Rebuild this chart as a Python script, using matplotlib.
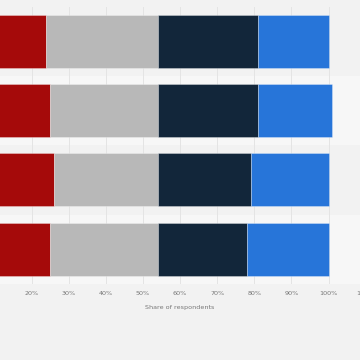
import numpy as np
import matplotlib
matplotlib.use("Agg")
import matplotlib.pyplot as plt

# --- Data (category labels are cropped out) ---
categories = ["Group 1", "Group 2", "Group 3", "Group 4"]
series_names = ["Series 1", "Series 2", "Series 3", "Series 4"]
series_1 = [24, 25, 26, 25]
series_2 = [30, 29, 28, 29]
series_3 = [27, 27, 25, 24]
series_4 = [19, 20, 21, 22]
ticks = np.arange(0, 130, 10)

colors = ["#a50a0a", "#b8b8b8", "#12263a", "#2775d9"]

# --- Figure ---
fig = plt.figure(figsize=(3.6, 3.6), dpi=100)
fig.patch.set_facecolor("#f2f2f2")

# axes runs past the figure edges on purpose (reference is a crop)
px0 = -42.75          # x pixel of 0 %
px_per_pct = 3.7125
xmax = 120
left = px0 / 360
width = xmax * px_per_pct / 360
top_px, bottom_px = 7, 283.7
ax_h = bottom_px - top_px
ax = fig.add_axes([left, 1 - bottom_px / 360, width, ax_h / 360])
ax.set_facecolor("#f2f2f2")

y = np.arange(len(categories))
# alternating row bands
for i in y:
    ax.axhspan(i - 0.5, i + 0.5, color="#f2f2f2" if i % 2 == 0 else "#f7f7f7",
               zorder=0, lw=0)

left_acc = np.zeros(len(categories))
for vals, col, name in zip([series_1, series_2, series_3, series_4], colors, series_names):
    ax.barh(y, vals, left=left_acc, height=0.766, color=col, label=name,
            edgecolor=(1, 1, 1, 0.35), linewidth=0.6, zorder=3)
    left_acc += np.array(vals)

ax.set_xlim(0, xmax)
ax.set_ylim(len(categories) - 0.5, -0.5)
ax.set_xticks(ticks)
# 0 % and 10 % fall outside the visible crop
ax.set_xticklabels(["" if t < 20 else f"{t}%" for t in ticks],
                   fontsize=4.6, color="#777777")
ax.set_yticks([])
ax.tick_params(axis="x", length=0, pad=5)
ax.grid(axis="x", color="#e4e4e4", linewidth=0.7)
ax.set_axisbelow(True)
for s in ax.spines.values():
    s.set_visible(False)

ax.set_xlabel("Share of respondents", fontsize=4.6, color="#777777")
# center the label in the visible part of the figure
ax.xaxis.set_label_coords((180 - px0) / (xmax * px_per_pct), -(305 - bottom_px) / ax_h)

fig.savefig("out.png", dpi=100, facecolor=fig.get_facecolor())
